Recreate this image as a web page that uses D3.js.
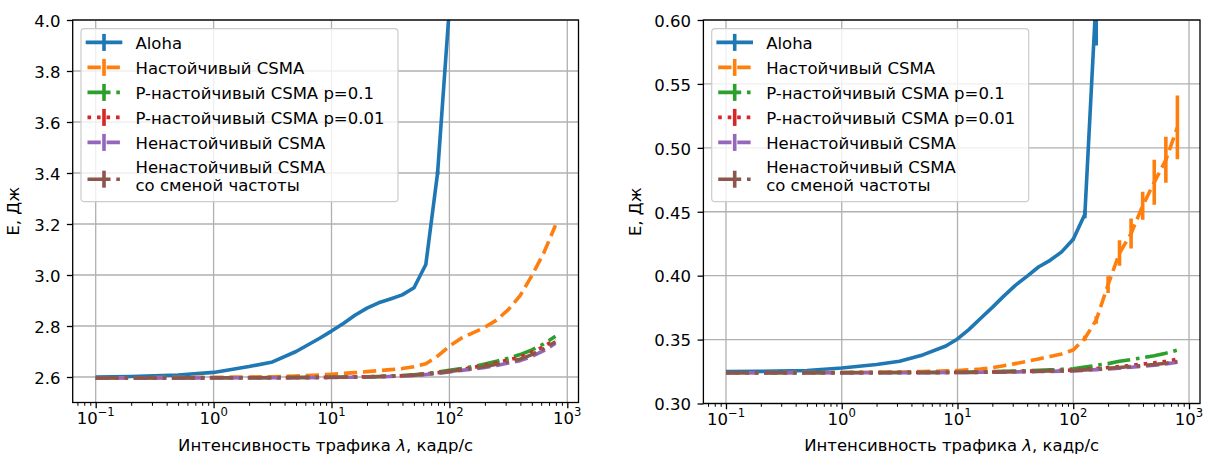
<!DOCTYPE html>
<html>
<head>
<meta charset="utf-8">
<script src="https://cdn.jsdelivr.net/npm/d3@7"></script>
<style>
  body { margin: 0; background: #fff; }
  text { font-family: "DejaVu Sans", sans-serif; }
</style>
</head>
<body>
<svg id="chart" width="1208" height="457"></svg>
<script>
// Traffic intensity, frames/s
var lambda = [0.1, 0.2, 0.5, 1, 2, 3.16, 5.01, 7.94, 10, 12.6, 15.8, 20, 25.1, 31.6, 39.8, 50.1, 63.1, 79.4,
              100, 126, 158, 200, 251, 316, 398, 501, 631, 794];

var seriesNames = ["Aloha", "Настойчивый CSMA", "P-настойчивый CSMA p=0.1", "P-настойчивый CSMA p=0.01",
                   "Ненастойчивый CSMA", "Ненастойчивый CSMA\nсо сменой частоты"];
var seriesColors = ["#1f77b4", "#ff7f0e", "#2ca02c", "#d62728", "#9467bd", "#8c564b"];
var seriesDash = ["none", "13.3,5.8", "23,5.8,3.6,5.8", "3.6,5.9", "13.3,5.8", "23,5.8,3.6,5.8"];

// left panel, E (J)
var leftAloha = [2.600, 2.602, 2.608, 2.618, 2.641, 2.659, 2.700, 2.752, 2.780, 2.810, 2.842, 2.870, 2.891, 2.906,
                 2.922, 2.950, 3.041, 3.400, 4.050, null, null, null, null, null, null, null, null, null];
var leftAlohaErr = [0, 0, 0, 0, 0, 0, 0, 0, 0, 0, 0, 0, 0, 0, 0, 0, 0, 0.008, 0, 0, 0, 0, 0, 0, 0, 0, 0, 0];
var leftPersistent = [2.597, 2.597, 2.598, 2.599, 2.600, 2.601, 2.604, 2.608, 2.611, 2.614, 2.617, 2.621, 2.625, 2.629,
                      2.633, 2.640, 2.652, 2.682, 2.721, 2.752, 2.773, 2.795, 2.823, 2.864, 2.919, 2.998, 3.086, 3.195];
var leftP01 = [2.597, 2.597, 2.597, 2.597, 2.597, 2.598, 2.598, 2.599, 2.599, 2.600, 2.600, 2.601, 2.602, 2.604,
               2.606, 2.609, 2.613, 2.619, 2.626, 2.633, 2.641, 2.651, 2.662, 2.674, 2.688, 2.706, 2.730, 2.760];
var leftP001 = [2.596, 2.596, 2.596, 2.597, 2.597, 2.597, 2.598, 2.598, 2.599, 2.599, 2.600, 2.601, 2.602, 2.603,
                2.605, 2.608, 2.612, 2.617, 2.624, 2.630, 2.637, 2.646, 2.656, 2.667, 2.679, 2.697, 2.719, 2.747];
var leftNonPersistent = [2.596, 2.596, 2.596, 2.596, 2.597, 2.597, 2.597, 2.598, 2.598, 2.599, 2.599, 2.600, 2.601, 2.602,
                         2.604, 2.606, 2.610, 2.614, 2.620, 2.626, 2.631, 2.637, 2.645, 2.655, 2.664, 2.681, 2.703, 2.732];
var leftNonPersistentHop = [2.596, 2.596, 2.596, 2.597, 2.597, 2.597, 2.598, 2.598, 2.599, 2.599, 2.600, 2.600, 2.601, 2.603,
                            2.605, 2.607, 2.611, 2.616, 2.622, 2.628, 2.634, 2.641, 2.650, 2.660, 2.670, 2.688, 2.711, 2.738];
var leftTicks = [2.6, 2.8, 3.0, 3.2, 3.4, 3.6, 3.8, 4.0];

// right panel, E (J)
var rightAloha = [0.3249, 0.3251, 0.3258, 0.3278, 0.3305, 0.3330, 0.3380, 0.3450, 0.3505, 0.3580, 0.3665, 0.3752, 0.3840, 0.3924,
                  0.3995, 0.4068, 0.4120, 0.4186, 0.4285, 0.4480, 0.6200, null, null, null, null, null, null, null];
var rightAlohaErr = [0, 0, 0, 0, 0, 0, 0, 0, 0, 0, 0, 0, 0, 0, 0, 0, 0, 0, 0.001, 0.003, 0.04, 0, 0, 0, 0, 0, 0, 0];
var rightPersistent = [0.3241, 0.3241, 0.3242, 0.3243, 0.3245, 0.3247, 0.3250, 0.3255, 0.3258, 0.3263, 0.3270, 0.3280, 0.3295, 0.3312,
                       0.3330, 0.3348, 0.3368, 0.3388, 0.3418, 0.3510, 0.3653, 0.3930, 0.4177, 0.4330, 0.4547, 0.4730, 0.4906, 0.5160];
var rightPersistentErr = [0, 0, 0, 0, 0, 0, 0, 0, 0, 0, 0, 0, 0, 0, 0, 0, 0, 0, 0, 0.002, 0.003, 0.0065, 0.010, 0.0117,
                          0.011, 0.0176, 0.018, 0.025];
var rightP01 = [0.3241, 0.3241, 0.3241, 0.3242, 0.3242, 0.3243, 0.3243, 0.3244, 0.3245, 0.3246, 0.3247, 0.3249, 0.3251, 0.3253,
                0.3256, 0.3259, 0.3263, 0.3267, 0.3272, 0.3285, 0.3298, 0.3312, 0.3330, 0.3344, 0.3358, 0.3374, 0.3394, 0.3418];
var rightP001 = [0.3241, 0.3241, 0.3241, 0.3241, 0.3242, 0.3242, 0.3243, 0.3243, 0.3244, 0.3245, 0.3246, 0.3247, 0.3249, 0.3251,
                 0.3253, 0.3255, 0.3257, 0.3259, 0.3262, 0.3268, 0.3274, 0.3281, 0.3289, 0.3298, 0.3308, 0.3318, 0.3330, 0.3346];
var rightNonPersistent = [0.3240, 0.3240, 0.3240, 0.3240, 0.3241, 0.3241, 0.3241, 0.3242, 0.3242, 0.3243, 0.3244, 0.3245, 0.3246, 0.3247,
                          0.3248, 0.3250, 0.3251, 0.3253, 0.3255, 0.3260, 0.3265, 0.3271, 0.3277, 0.3284, 0.3292, 0.3300, 0.3310, 0.3322];
var rightNonPersistentHop = [0.3241, 0.3241, 0.3241, 0.3241, 0.3241, 0.3242, 0.3242, 0.3242, 0.3243, 0.3243, 0.3244, 0.3245, 0.3246, 0.3248,
                             0.3250, 0.3252, 0.3254, 0.3256, 0.3258, 0.3263, 0.3269, 0.3275, 0.3282, 0.3289, 0.3297, 0.3305, 0.3315, 0.3328];
var rightTicks = [0.30, 0.35, 0.40, 0.45, 0.50, 0.55, 0.60];

var xMajor = [0.1, 1, 10, 100, 1000];
var xExp = ["\u22121", "0", "1", "2", "3"];

var svg = d3.select("#chart");
var fs = 16.5, lw = 3.6;

var panels = [
  {id: "l", left: 72.7, right: 578.5, top: 20, bottom: 402.5, yDomain: [2.5, 4.0], ticks: leftTicks, fmt: ".1f",
   labelX: 19,
   series: [leftAloha, leftPersistent, leftP01, leftP001, leftNonPersistent, leftNonPersistentHop],
   errs: [leftAlohaErr, null, null, null, null, null]},
  {id: "r", left: 703.4, right: 1200, top: 20, bottom: 403.5, yDomain: [0.3, 0.6], ticks: rightTicks, fmt: ".2f",
   labelX: 641,
   series: [rightAloha, rightPersistent, rightP01, rightP001, rightNonPersistent, rightNonPersistentHop],
   errs: [rightAlohaErr, rightPersistentErr, null, null, null, null]}
];

panels.forEach(function(p) {
  var x = d3.scaleLog().domain([Math.pow(10, -1.195), Math.pow(10, 3.095)]).range([p.left, p.right]);
  var y = d3.scaleLinear().domain(p.yDomain).range([p.bottom, p.top]);

  svg.append("clipPath").attr("id", "clip_" + p.id)
    .append("rect").attr("x", p.left).attr("y", p.top)
    .attr("width", p.right - p.left).attr("height", p.bottom - p.top);

  // grid
  var grid = svg.append("g").attr("stroke", "#b0b0b0").attr("stroke-width", 1.3);
  grid.selectAll(".gx").data(xMajor).enter().append("line")
    .attr("x1", function(d) { return x(d); }).attr("x2", function(d) { return x(d); })
    .attr("y1", p.top).attr("y2", p.bottom);
  grid.selectAll(".gy").data(p.ticks).enter().append("line")
    .attr("x1", p.left).attr("x2", p.right)
    .attr("y1", function(d) { return y(d); }).attr("y2", function(d) { return y(d); });

  // data
  var plot = svg.append("g").attr("clip-path", "url(#clip_" + p.id + ")");
  p.series.forEach(function(vals, i) {
    var pts = lambda.map(function(l, j) { return [l, vals[j]]; });
    var line = d3.line()
      .defined(function(d) { return d[1] != null; })
      .x(function(d) { return x(d[0]); })
      .y(function(d) { return y(d[1]); });
    var err = p.errs[i];
    if (err) {
      plot.append("g").selectAll("line")
        .data(pts.filter(function(d, j) { return d[1] != null && err[j] > 0; }).map(function(d) {
          return [d[0], d[1], err[lambda.indexOf(d[0])]]; }))
        .enter().append("line")
        .attr("x1", function(d) { return x(d[0]); }).attr("x2", function(d) { return x(d[0]); })
        .attr("y1", function(d) { return y(d[1] - d[2]); }).attr("y2", function(d) { return y(d[1] + d[2]); })
        .attr("stroke", seriesColors[i]).attr("stroke-width", lw);
    }
    plot.append("path")
      .attr("d", line(pts))
      .attr("fill", "none")
      .attr("stroke", seriesColors[i])
      .attr("stroke-width", lw)
      .attr("stroke-linejoin", "round")
      .attr("stroke-dasharray", seriesDash[i]);
  });

  // y axis
  var ya = svg.append("g").attr("transform", "translate(" + p.left + ",0)")
    .call(d3.axisLeft(y).tickValues(p.ticks).tickSize(5.8).tickPadding(6.5).tickFormat(d3.format(p.fmt)));
  ya.select(".domain").remove();
  ya.selectAll(".tick line").attr("stroke", "#000").attr("stroke-width", 1.3);
  ya.selectAll(".tick text").attr("font-size", fs).attr("fill", "#000").attr("dy", "0.38em")
    .attr("font-family", "DejaVu Sans");

  // x axis, major + minor ticks
  var minor = [];
  for (var e = -2; e <= 3; e++) for (var m = 2; m <= 9; m++) {
    var v = m * Math.pow(10, e);
    if (v > x.domain()[0] && v < x.domain()[1]) minor.push(v);
  }
  var xmin = svg.append("g").attr("transform", "translate(0," + p.bottom + ")")
    .call(d3.axisBottom(x).tickValues(minor).tickSize(3.3).tickFormat(""));
  xmin.select(".domain").remove();
  xmin.selectAll(".tick line").attr("stroke", "#000").attr("stroke-width", 1);
  var xa = svg.append("g").attr("transform", "translate(0," + p.bottom + ")")
    .call(d3.axisBottom(x).tickValues(xMajor).tickSize(5.8).tickFormat(""));
  xa.select(".domain").remove();
  xa.selectAll(".tick line").attr("stroke", "#000").attr("stroke-width", 1.3);
  var lab = svg.append("g").selectAll("text").data(xMajor).enter().append("text")
    .attr("x", function(d) { return x(d); })
    .attr("y", p.bottom + 21)
    .attr("text-anchor", "middle")
    .attr("font-size", fs)
    .attr("fill", "#000");
  lab.append("tspan").text("10");
  lab.append("tspan").attr("dy", -7.5).attr("font-size", 11.6)
    .text(function(d, i) { return xExp[i]; });

  // spines
  svg.append("rect").attr("x", p.left).attr("y", p.top)
    .attr("width", p.right - p.left).attr("height", p.bottom - p.top)
    .attr("fill", "none").attr("stroke", "#000").attr("stroke-width", 1.3);

  // axis titles
  var xt = svg.append("text")
    .attr("x", (p.left + p.right) / 2).attr("y", 451)
    .attr("text-anchor", "middle").attr("font-size", fs).attr("fill", "#000");
  xt.append("tspan").text("Интенсивность трафика ");
  xt.append("tspan").attr("font-style", "italic").text("λ");
  xt.append("tspan").text(", кадр/с");

  svg.append("text")
    .attr("transform", "translate(" + p.labelX + "," + ((p.top + p.bottom) / 2) + ") rotate(-90)")
    .attr("text-anchor", "middle").attr("font-size", fs).attr("fill", "#000")
    .text("E, Дж");

  // legend
  var bx = p.left + 8.3, by = p.top + 8.7;
  svg.append("rect").attr("x", bx).attr("y", by).attr("width", 317).attr("height", 173)
    .attr("rx", 3.5).attr("fill", "#fff").attr("fill-opacity", 0.8)
    .attr("stroke", "#cccccc").attr("stroke-width", 1.2);
  var rowY = [13.7, 38.7, 63.7, 88.7, 113.7, 150.5];
  var leg = svg.append("g").selectAll("g").data(seriesNames).enter().append("g")
    .attr("transform", function(d, i) { return "translate(" + bx + "," + (by + rowY[i]) + ")"; });
  leg.append("line")
    .attr("x1", 6.5).attr("x2", 39.5).attr("y1", 0).attr("y2", 0)
    .attr("stroke", function(d, i) { return seriesColors[i]; })
    .attr("stroke-width", lw)
    .attr("stroke-linecap", function(d, i) { return i === 0 ? "square" : "butt"; })
    .attr("stroke-dasharray", function(d, i) { return seriesDash[i]; });
  leg.append("line")
    .attr("x1", 23).attr("x2", 23).attr("y1", -8.5).attr("y2", 8.5)
    .attr("stroke", function(d, i) { return seriesColors[i]; })
    .attr("stroke-width", lw);
  leg.each(function(d) {
    var parts = d.split("\n");
    var t = d3.select(this).append("text")
      .attr("x", 54.5).attr("font-size", fs).attr("fill", "#000");
    parts.forEach(function(s, k) {
      t.append("tspan").attr("x", 54.5)
        .attr("y", parts.length > 1 ? (k === 0 ? -6.2 : 12.2) : 6.3)
        .text(s);
    });
  });
});
</script>
</body>
</html>
